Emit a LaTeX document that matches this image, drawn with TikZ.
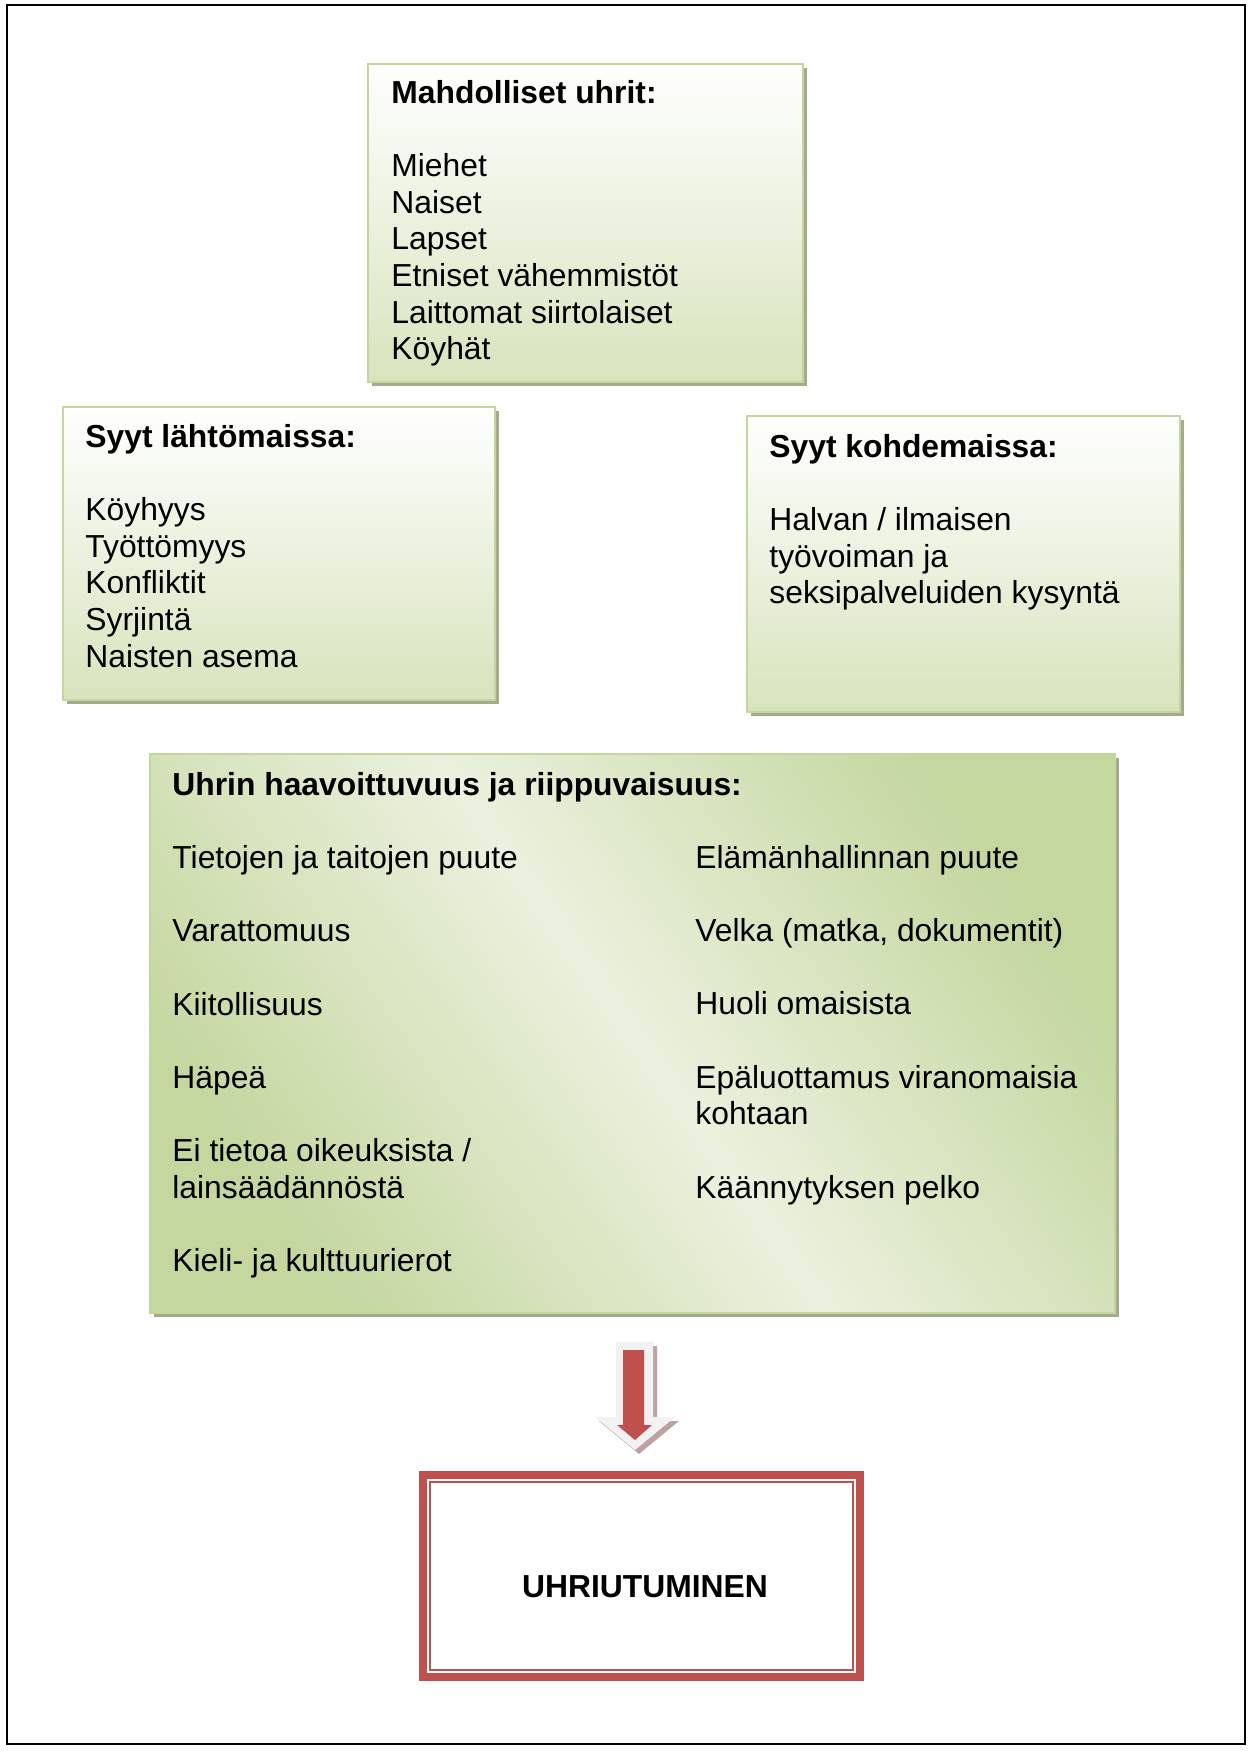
\documentclass[tikz,border=0pt]{standalone}
\usepackage{fontspec}
\setmainfont{Liberation Sans}
\usetikzlibrary{fit,shadows}
\definecolor{boxgreen}{HTML}{D7E4BD}
\definecolor{boxline}{HTML}{C3D69B}
\definecolor{boxdark}{HTML}{C4D79F}
\definecolor{boxlight}{HTML}{EBF1DE}
\definecolor{boxshadow}{HTML}{A3AB8C}
\definecolor{alarmred}{HTML}{C0504D}
\definecolor{arrowrim}{HTML}{F2F2F2}
\definecolor{arrowshade}{HTML}{BFA1A1}
\newcommand{\boxlines}[1]{\begin{tabular}[t]{@{}l@{}}#1\end{tabular}}
\begin{document}
\begin{tikzpicture}[x=0.4745pt,y=-0.4745pt,font=\fontsize{15.1}{17.4}\selectfont,
    greenbox/.style={draw=boxline,line width=.95pt,inner sep=0pt,top color=white,bottom color=boxgreen,
        drop shadow={shadow xshift=1.8pt,shadow yshift=-1.8pt,fill=boxshadow,opacity=1}},
    vulnbox/.style={greenbox,top color=boxdark,bottom color=boxdark,middle color=boxlight,shading angle=-55},
    boxtext/.style={anchor=base west,inner sep=0pt}]
    \useasboundingbox (0,0) rectangle (1254,1758);
    \draw[line width=1.1pt] (7,5) rectangle (1245,1744);
    % boxes
    \node[greenbox,fit={(368,64) (803,382)}] (victims) {};
    \node[greenbox,fit={(63,407) (495,700)}] (origin) {};
    \node[greenbox,fit={(747,416) (1180,712)}] (destination) {};
    \node[vulnbox,fit={(150,754) (1115,1313)}] (vuln) {};
    \node[boxtext] (victimstext) at (391,103) {\boxlines{\textbf{Mahdolliset uhrit:}\\[17.4pt]
        Miehet\\ Naiset\\ Lapset\\ Etniset vähemmistöt\\ Laittomat siirtolaiset\\ Köyhät}};
    \node[boxtext] (origintext) at (85,447) {\boxlines{\textbf{Syyt lähtömaissa:}\\[17.4pt]
        Köyhyys\\ Työttömyys\\ Konfliktit\\ Syrjintä\\ Naisten asema}};
    \node[boxtext] (destinationtext) at (769,457) {\boxlines{\textbf{Syyt kohdemaissa:}\\[17.4pt]
        Halvan / ilmaisen\\ työvoiman ja\\ seksipalveluiden kysyntä}};
    \node[boxtext] (vulnleft) at (172,795) {\boxlines{\textbf{Uhrin haavoittuvuus ja riippuvaisuus:}\\[17.4pt]
        Tietojen ja taitojen puute\\[17.4pt] Varattomuus\\[17.4pt] Kiitollisuus\\[17.4pt] Häpeä\\[17.4pt]
        Ei tietoa oikeuksista /\\ lainsäädännöstä\\[17.4pt] Kieli- ja kulttuurierot}};
    \node[boxtext] (vulnright) at (695,868) {\boxlines{Elämänhallinnan puute\\[17.4pt] Velka (matka, dokumentit)\\[17.4pt]
        Huoli omaisista\\[17.4pt] Epäluottamus viranomaisia\\ kohtaan\\[17.4pt] Käännytyksen pelko}};
    % arrow down
    \fill[arrowshade] (620,1346) -- (657,1346) -- (657,1421) -- (679,1421) -- (639,1454) -- (599,1421) -- (620,1421) -- cycle;
    \fill[arrowrim] (616,1342) -- (653,1342) -- (653,1417) -- (675,1417) -- (635,1450) -- (595,1417) -- (616,1417) -- cycle;
    \fill[alarmred] (623,1350) -- (644,1350) -- (644,1425) -- (652,1425) -- (635,1440) -- (617,1425) -- (623,1425) -- cycle;
    % result
    \node[draw=alarmred,line width=3.8pt,inner sep=0pt,fit={(423,1475) (860,1677)}] (result) {};
    \node[draw=alarmred,line width=.7pt,inner sep=0pt,fit={(430,1482) (853,1670)}] (resultin) {};
    \node[anchor=base,inner sep=0pt,font=\fontsize{15.1}{17.4}\selectfont\bfseries] (resulttext) at (645,1597) {UHRIUTUMINEN};
\end{tikzpicture}
\end{document}
